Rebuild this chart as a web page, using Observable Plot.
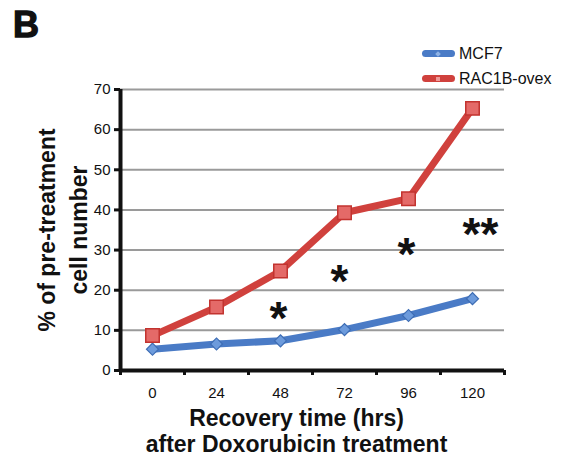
<!DOCTYPE html>
<html><head><meta charset="utf-8">
<script src="https://cdn.jsdelivr.net/npm/d3@7"></script>
<script src="https://cdn.jsdelivr.net/npm/@observablehq/plot@0.6"></script>
<style>
body{margin:0;background:#fff;font-family:"Liberation Sans",Arial,sans-serif;}
#wrap{position:relative;width:564px;height:463px;}
#title{position:absolute;left:13px;top:7px;font-size:36px;line-height:36px;font-weight:bold;-webkit-text-stroke:1.3px #111;color:#111;}
#legend{position:absolute;left:422px;top:41px;font-size:16px;color:#111;}
.row{display:flex;align-items:center;height:25px;}
.sw{position:relative;width:33px;height:7px;border-radius:4px;margin-right:4px;}
.sw i{position:absolute;left:14px;top:1.5px;width:4px;height:4px;}
#chart{position:absolute;left:0;top:0;}
</style></head><body>
<div id="wrap"><div id="chart"></div><div id="title">B</div><div id="legend"></div></div>
<script>
const hours = [0, 24, 48, 72, 96, 120];
const mcf7 = [5.3, 6.6, 7.4, 10.2, 13.7, 17.9];
const rac1b = [8.7, 15.8, 24.8, 39.3, 42.8, 65.3];
const seriesNames = ["MCF7", "RAC1B-ovex"];
const seriesColors = ["#4a7bc6", "#d0413d"];
const sigX = [47.2, 70.1, 95.2, 123];
const sigY = [15.7, 24.9, 31.6, 36.6];
const sigLabels = ["*", "*", "*", "**"];
const yTicks = [0, 10, 20, 30, 40, 50, 60, 70];
const xLabel = "Recovery time (hrs)\nafter Doxorubicin treatment";
const yLabel = "% of pre-treatment\ncell number";

const step = hours[1] - hours[0];
const xDomain = [hours[0] - step / 2, hours[hours.length - 1] + step / 2];
const boundaries = [xDomain[0], ...hours.map(h => h + step / 2)];
const blue = hours.map((h, i) => ({x: h, y: mcf7[i]}));
const red = hours.map((h, i) => ({x: h, y: rac1b[i]}));
const sig = sigX.map((x, i) => ({x, y: sigY[i], t: sigLabels[i]}));

const plot = Plot.plot({
  width: 564, height: 463,
  marginLeft: 120, marginRight: 60, marginTop: 89, marginBottom: 93,
  style: {fontFamily: "Liberation Sans, Arial, sans-serif", background: "transparent", color: "#111"},
  x: {type: "linear", domain: xDomain},
  y: {domain: [0, 70]},
  marks: [
    Plot.gridY(yTicks, {stroke: "#9a9a9a", strokeOpacity: 1, strokeWidth: 2}),
    Plot.axisY(yTicks, {tickSize: 6, tickPadding: 4, fontSize: 15, strokeWidth: 3, stroke: "#111", label: null}),
    Plot.axisX(hours, {tickSize: 0, tickPadding: 17, fontSize: 15, label: null}),
    Plot.axisX(boundaries, {tickSize: 5, tickFormat: () => "", strokeWidth: 3, stroke: "#111", label: null}),
    Plot.ruleY([0], {stroke: "#111", strokeWidth: 4}),
    Plot.ruleX([xDomain[0]], {stroke: "#111", strokeWidth: 4}),
    Plot.line(blue, {x: "x", y: "y", stroke: seriesColors[0], strokeWidth: 7}),
    Plot.line(red, {x: "x", y: "y", stroke: seriesColors[1], strokeWidth: 7}),
    Plot.dot(blue, {x: "x", y: "y", symbol: "square", r: 4.8, rotate: 45, fill: "#6d9bdc", stroke: "#3e6db4", strokeWidth: 1.2}),
    Plot.dot(red, {x: "x", y: "y", symbol: "square", r: 7.6, fill: "#e46a68", stroke: "#c2332f", strokeWidth: 1.5}),
    Plot.text(sig, {x: "x", y: "y", text: "t", fontSize: 46, fontWeight: "bold", fill: "#111", lineAnchor: "middle", dy: 12}),
    Plot.text([yLabel], {frameAnchor: "left", textAnchor: "middle", rotate: -90, dx: -60, fontSize: 23, fontWeight: "bold", fill: "#111", lineAnchor: "middle", lineHeight: 1.4}),
    Plot.text([xLabel], {frameAnchor: "bottom", textAnchor: "middle", dx: -16, dy: 37, fontSize: 23, fontWeight: "bold", fill: "#111", lineAnchor: "top", lineHeight: 1.12})
  ]
});
document.getElementById("chart").appendChild(plot);

const legend = document.getElementById("legend");
seriesNames.forEach((name, i) => {
  const row = document.createElement("div");
  row.className = "row";
  const sw = document.createElement("div");
  sw.className = "sw";
  sw.style.background = seriesColors[i];
  const mk = document.createElement("i");
  mk.style.background = i === 0 ? "#8fb3e6" : "#ee9a98";
  if (i === 0) mk.style.transform = "rotate(45deg)";
  sw.appendChild(mk);
  const label = document.createElement("span");
  label.textContent = name;
  row.appendChild(sw);
  row.appendChild(label);
  legend.appendChild(row);
});
</script>
</body></html>
